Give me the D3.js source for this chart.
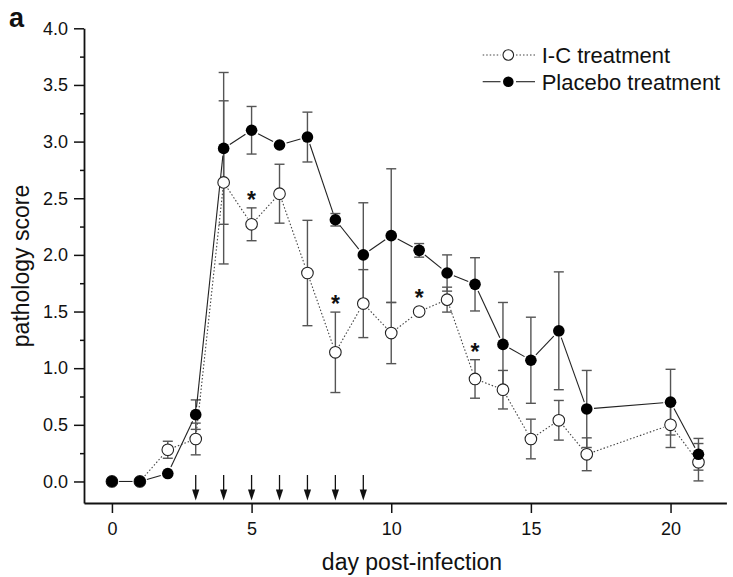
<!DOCTYPE html>
<html>
<head>
<meta charset="utf-8">
<script src="https://cdn.jsdelivr.net/npm/d3@7"></script>
<style>
  body { margin: 0; background: #fff; }
  text { font-family: "Liberation Sans", Arial, sans-serif; }
</style>
</head>
<body>
<div id="chart"></div>
<script>
// donnees
const days = [0, 1, 2, 3, 4, 5, 6, 7, 8, 9, 10, 11, 12, 13, 14, 15, 16, 17, 20, 21];
const placebo = [0, 0, 0.07, 0.59, 2.94, 3.10, 2.97, 3.04, 2.31, 2.00, 2.17, 2.04, 1.84, 1.74, 1.21, 1.07, 1.33, 0.64, 0.70, 0.24];
const placeboErr = [0, 0, 0, 0.13, 0.67, 0.21, 0, 0.22, 0.055, 0.46, 0.59, 0.06, 0.16, 0.235, 0.37, 0.38, 0.52, 0.34, 0.29, 0.14];
const ic = [0, 0, 0.28, 0.375, 2.64, 2.27, 2.54, 1.84, 1.14, 1.57, 1.31, 1.50, 1.605, 0.905, 0.81, 0.375, 0.54, 0.24, 0.50, 0.17];
const icErr = [0, 0, 0.075, 0.14, 0.72, 0.145, 0.26, 0.465, 0.355, 0.30, 0.27, 0, 0.11, 0.17, 0.17, 0.175, 0.175, 0.145, 0.20, 0.165];
const starDays = [5, 8, 11, 13];
const arrowDays = [3, 4, 5, 6, 7, 8, 9];
const xTicks = [0, 5, 10, 15, 20];
const yTicks = [0, 0.5, 1.0, 1.5, 2.0, 2.5, 3.0, 3.5, 4.0];
const yMinor = [0.25, 0.75, 1.25, 1.75, 2.25, 2.75, 3.25, 3.75];
const seriesNames = ["I-C treatment", "Placebo treatment"];

const width = 733;
const height = 577;
const r = 5.8;

var svg = d3.select("#chart")
    .append("svg")
    .attr("width", width)
    .attr("height", height);

var x = d3.scaleLinear().domain([-1, 22]).range([84, 726.4]);
var y = d3.scaleLinear().domain([-0.19, 4.0]).range([503, 28.3]);

// axes
svg.append("g")
    .attr("transform", "translate(0," + y.range()[0] + ")")
    .call(d3.axisBottom(x).tickValues(xTicks).tickSize(10).tickSizeOuter(0).tickPadding(9));

svg.append("g")
    .attr("transform", "translate(" + x.range()[0] + ",0)")
    .call(d3.axisLeft(y).tickValues(yTicks).tickFormat(d3.format(".1f")).tickSize(10).tickSizeOuter(0).tickPadding(6));

svg.append("g")
    .attr("transform", "translate(" + x.range()[0] + ",0)")
    .call(d3.axisLeft(y).tickValues(yMinor).tickFormat("").tickSize(4).tickSizeOuter(0))
    .select(".domain").remove();

svg.selectAll(".domain").attr("stroke", "#111").attr("stroke-width", 1.8);
svg.selectAll(".tick line").attr("stroke", "#111").attr("stroke-width", 1.5);
svg.selectAll(".tick text").attr("font-size", 18).attr("fill", "#111")
    .style("font-family", "'Liberation Sans', Arial, sans-serif");

// titres
svg.append("text")
    .attr("x", 412)
    .attr("y", 570)
    .attr("text-anchor", "middle")
    .attr("font-size", 23)
    .attr("fill", "#111")
    .text("day post-infection");

svg.append("text")
    .attr("transform", "translate(29,266) rotate(-90)")
    .attr("text-anchor", "middle")
    .attr("font-size", 23)
    .attr("fill", "#111")
    .text("pathology score");

svg.append("text")
    .attr("x", 9)
    .attr("y", 27)
    .attr("font-size", 27)
    .attr("font-weight", "bold")
    .attr("fill", "#111")
    .text("a");

// barres d'erreur
function errorBars(vals, errs) {
    var g = svg.append("g")
        .attr("stroke", "#555")
        .attr("stroke-width", 1.4);
    days.forEach(function (d, i) {
        if (errs[i] <= 0) return;
        var cx = x(d);
        var top = y(vals[i] + errs[i]);
        var bot = y(vals[i] - errs[i]);
        g.append("line").attr("x1", cx).attr("x2", cx).attr("y1", top).attr("y2", bot);
        g.append("line").attr("x1", cx - 5).attr("x2", cx + 5).attr("y1", top).attr("y2", top);
        g.append("line").attr("x1", cx - 5).attr("x2", cx + 5).attr("y1", bot).attr("y2", bot);
    });
}
errorBars(ic, icErr);
errorBars(placebo, placeboErr);

// segments raccourcis pres des symboles
function segments(vals, dash, color) {
    var g = svg.append("g")
        .attr("stroke", color)
        .attr("stroke-width", 1.1)
        .attr("stroke-dasharray", dash);
    for (var i = 0; i < days.length - 1; i++) {
        var x1 = x(days[i]), y1 = y(vals[i]);
        var x2 = x(days[i + 1]), y2 = y(vals[i + 1]);
        var len = Math.hypot(x2 - x1, y2 - y1);
        var gap = r + 1.5;
        if (len <= 2 * gap) continue;
        var ux = (x2 - x1) / len, uy = (y2 - y1) / len;
        g.append("line")
            .attr("x1", x1 + ux * gap).attr("y1", y1 + uy * gap)
            .attr("x2", x2 - ux * gap).attr("y2", y2 - uy * gap);
    }
}
segments(ic, "1.5,2", "#444");
segments(placebo, null, "#222");

// symboles
svg.append("g")
    .selectAll("circle")
    .data(days)
    .join("circle")
    .attr("cx", d => x(d))
    .attr("cy", (d, i) => y(ic[i]))
    .attr("r", r)
    .attr("fill", "#fff")
    .attr("stroke", "#222")
    .attr("stroke-width", 1.1);

svg.append("g")
    .selectAll("circle")
    .data(days)
    .join("circle")
    .attr("cx", d => x(d))
    .attr("cy", (d, i) => y(placebo[i]))
    .attr("r", r)
    .attr("fill", "#000");

// etoiles de significativite
svg.append("g")
    .selectAll("text")
    .data(starDays)
    .join("text")
    .attr("x", d => x(d))
    .attr("y", function (d) {
        var i = days.indexOf(d);
        var top = Math.min(y(ic[i] + icErr[i]), y(ic[i]) - r);
        return top - 13 + 13;
    })
    .attr("text-anchor", "middle")
    .attr("font-size", 23)
    .attr("font-weight", "bold")
    .attr("fill", "#111")
    .text("*");

// fleches des traitements
var arrows = svg.append("g");
arrowDays.forEach(function (d) {
    var cx = x(d);
    arrows.append("line")
        .attr("x1", cx).attr("x2", cx)
        .attr("y1", 475).attr("y2", 491)
        .attr("stroke", "#111").attr("stroke-width", 1.3);
    arrows.append("path")
        .attr("d", "M" + (cx - 3.6) + ",489.5 L" + (cx + 3.6) + ",489.5 L" + cx + ",500.5 Z")
        .attr("fill", "#111");
});

// legende
var legend = svg.append("g");
var ly = [55, 81.7];
seriesNames.forEach(function (name, i) {
    var g = legend.append("g");
    g.append("line").attr("x1", 482.7).attr("x2", 500.5).attr("y1", ly[i]).attr("y2", ly[i])
        .attr("stroke", i === 0 ? "#444" : "#222").attr("stroke-width", 1.1)
        .attr("stroke-dasharray", i === 0 ? "1.5,2" : null);
    g.append("line").attr("x1", 516).attr("x2", 535).attr("y1", ly[i]).attr("y2", ly[i])
        .attr("stroke", i === 0 ? "#444" : "#222").attr("stroke-width", 1.1)
        .attr("stroke-dasharray", i === 0 ? "1.5,2" : null);
    g.append("circle").attr("cx", 508.3).attr("cy", ly[i]).attr("r", 5.3)
        .attr("fill", i === 0 ? "#fff" : "#000")
        .attr("stroke", "#222").attr("stroke-width", i === 0 ? 1.1 : 0);
    g.append("text").attr("x", 541.7).attr("y", ly[i] + 8)
        .attr("font-size", 22).attr("fill", "#111")
        .text(name);
});
</script>
</body>
</html>
